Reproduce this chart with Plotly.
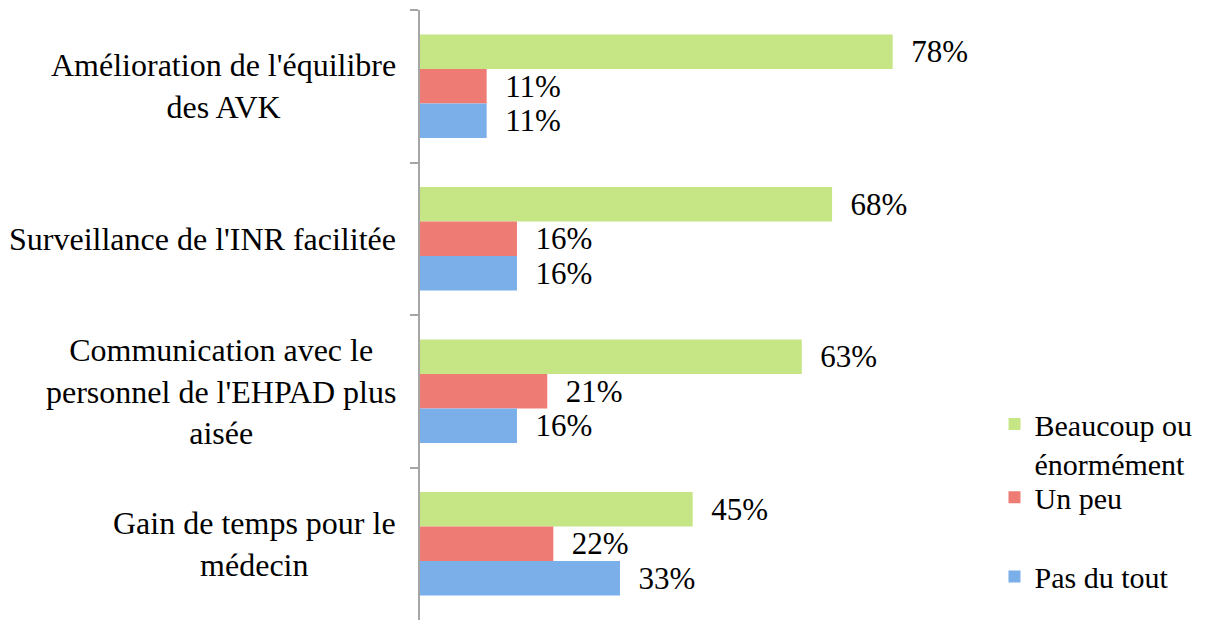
import plotly.graph_objects as go

categories = [
    "Amélioration de l'équilibre<br>des AVK",
    "Surveillance de l'INR facilitée",
    "Communication avec le<br>personnel de l'EHPAD plus<br>aisée",
    "Gain de temps pour le<br>médecin",
]
series_names = ["Beaucoup ou<br>énormément", "Un peu", "Pas du tout"]
beaucoup = [78, 68, 63, 45]
un_peu = [11, 16, 21, 22]
pas_du_tout = [11, 16, 16, 33]

colors = ["#c6e585", "#ee7c74", "#7aafea"]
legend_ids = ["legend", "legend2", "legend3"]
serif = "Liberation Serif"

fig = go.Figure()
for name, vals, c, lg in zip(series_names, [beaucoup, un_peu, pas_du_tout], colors, legend_ids):
    fig.add_trace(go.Bar(
        y=categories, x=vals, orientation="h", name=name,
        marker=dict(color=c, line=dict(width=0)),
        texttemplate="\u00a0\u00a0%{x}%", textposition="outside",
        textfont=dict(family=serif, size=31, color="black"),
        constraintext="none", cliponaxis=False, legend=lg,
    ))

for cat in categories:
    fig.add_annotation(
        x=-0.037, xref="paper", y=cat, yref="y", text=cat, showarrow=False,
        xanchor="right", yanchor="middle", align="center",
        font=dict(family=serif, size=32, color="black"),
    )

leg_common = dict(
    x=0.948, xanchor="left", yanchor="top", valign="top",
    font=dict(family=serif, size=30, color="black"),
    bgcolor="rgba(0,0,0,0)", itemwidth=30,
)
fig.update_layout(
    width=1203, height=618,
    font=dict(family=serif),
    margin=dict(l=412, r=185, t=2, b=6, autoexpand=False),
    paper_bgcolor="white", plot_bgcolor="white",
    barmode="group", bargap=0.32, bargroupgap=0,
    showlegend=True,
    legend=dict(y=0.364, **leg_common),
    legend2=dict(y=0.244, **leg_common),
    legend3=dict(y=0.114, **leg_common),
    xaxis=dict(range=[0, 100], visible=False, showgrid=False, zeroline=False),
    yaxis=dict(
        type="category", autorange="reversed", showline=True,
        linecolor="#a6a6a6", linewidth=2, ticks="outside", tickson="boundaries",
        ticklen=8, tickcolor="#a6a6a6", tickwidth=2, showticklabels=False,
        showgrid=False, zeroline=False,
    ),
)

fig.write_html("out.html")
